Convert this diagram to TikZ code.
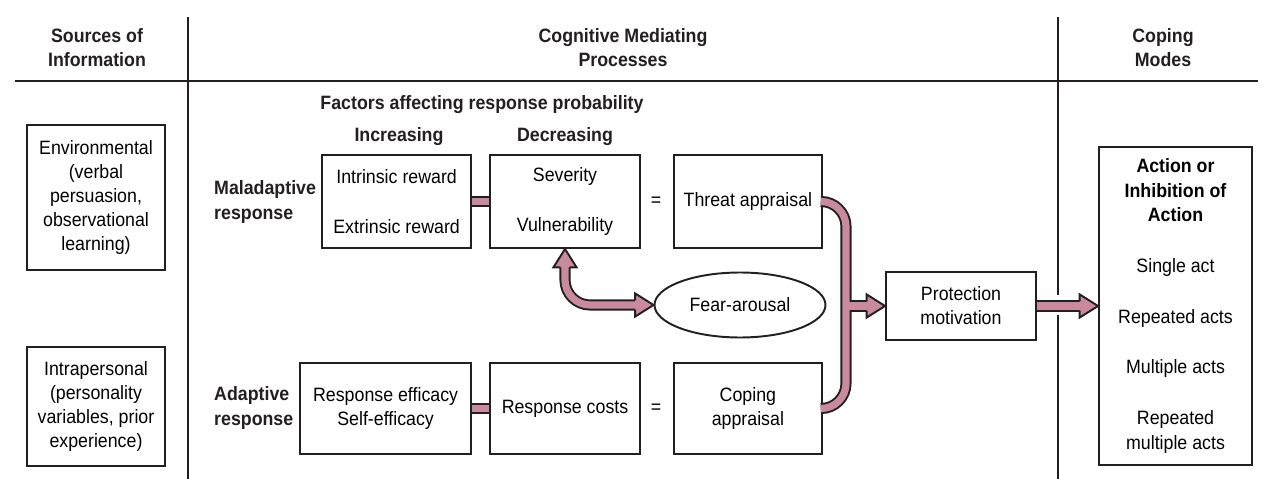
\documentclass[tikz,border=0pt]{standalone}
\usepackage{fontspec}
\setmainfont{Liberation Sans}[FakeStretch=0.92]
\usepackage{tikz}
\usetikzlibrary{positioning,shapes.geometric}

\definecolor{pipepink}{RGB}{201,138,158}
\definecolor{inkgray}{RGB}{35,31,32}
\newcommand\fs{\fontsize{11}{13.7}\selectfont}

% the pink pipes, drawn twice: dark rim first, pink core on top
\newcommand\pipepaths[1]{%
  \draw[#1] (intr.east) -- (sev.west);
  \draw[#1] (eff.east) -- (cost.west);
  \draw[#1, rounded corners=0.5cm] (threat.east) -| (jn) |- (coping.east);
  \draw[#1] (jn) -- ([xshift=-10pt]prot.west);
  \draw[#1] (prot.east) -- ([xshift=-10pt]act.west);
  \draw[#1, rounded corners=0.5cm] ([yshift=-10pt]sev.south) |- ([xshift=-10pt]fear.west);
}
% open block arrow head: angle, tip point
\newcommand\pipehead[2]{%
  \begin{scope}[shift={(#2)}, rotate=#1]
    \filldraw[fill=pipepink, draw=inkgray, line width=1.1pt]
      (-10.5pt,2.6pt) -- (-10.5pt,6.6pt) -- (0pt,0pt) -- (-10.5pt,-6.6pt) -- (-10.5pt,-2.6pt);
  \end{scope}}

\begin{document}
\begin{tikzpicture}[
    x=0.02cm, y=-0.02cm,
    box/.style={draw=inkgray, line width=1.1pt, align=center, font=\fs, inner sep=0pt},
    title/.style={align=center, font=\fs\bfseries, text=inkgray},
    rule/.style={draw=inkgray, line width=1.1pt},
    pipeout/.style={draw=inkgray, line width=6.3pt},
    pipein/.style={draw=pipepink, line width=4.1pt}
]
\useasboundingbox (0,0) rectangle (1267,479);

% column rules
\draw[rule] (15,81) -- (1258,81);
\draw[rule] (188,17) -- (188,479);
\draw[rule] (1058,17) -- (1058,295);
\draw[rule] (1058,315) -- (1058,479);

% headings
\node[title] (hsrc) at (97,48) {Sources of\\Information};
\node[title] (hcog) at (623,48) {Cognitive Mediating\\Processes};
\node[title] (hcop) at (1163,48) {Coping\\Modes};

% sources
\node[box, minimum width=2.76cm, minimum height=2.9cm] (env) at (96,197.5)
  {Environmental\\(verbal\\persuasion,\\observational\\learning)};
\node[box, minimum width=2.76cm, minimum height=2.38cm] (intra) at (96,406.5)
  {Intrapersonal\\(personality\\variables, prior\\experience)};

% mediating processes
\node[title] (factors) at (482,105) {Factors affecting response probability};
\node[title] (incr) at (399,137) {Increasing};
\node[title] (decr) at (565,137) {Decreasing};
\node[title, align=left, anchor=west] (mal) at (208,202) {Maladaptive\\response};
\node[title, align=left, anchor=west] (ada) at (208,408) {Adaptive\\response};

\node[box, minimum width=3.0cm, minimum height=1.86cm] (sev) at (565,201.5) {Severity\\[14.8pt]Vulnerability};
\node[box, minimum width=2.98cm, minimum height=1.86cm, left=0.34cm of sev] (intr) {Intrinsic reward\\[14.8pt]Extrinsic reward};
\node[box, minimum width=2.96cm, minimum height=1.86cm, right=0.64cm of sev] (threat) {Threat appraisal};
\node[font=\fs] (eq1) at (656,201.5) {=};

\node[box, minimum width=3.0cm, minimum height=1.82cm] (cost) at (565,408.5) {Response costs};
\node[box, minimum width=3.42cm, minimum height=1.82cm, left=0.34cm of cost] (eff) {Response efficacy\\Self-efficacy};
\node[box, minimum width=2.96cm, minimum height=1.82cm, right=0.64cm of cost] (coping) {Coping\\appraisal};
\node[font=\fs] (eq2) at (656,408.5) {=};

\node[box, ellipse, minimum width=3.42cm, minimum height=1.3cm] (fear) at (740,305) {Fear-arousal};
\node[box, minimum width=3.0cm, minimum height=1.36cm] (prot) at (961,306) {Protection\\motivation};
\coordinate (jn) at (846,306);

% coping modes
\node[box, minimum width=3.06cm, minimum height=6.36cm] (act) at (1175.5,306)
  {\textbf{Action or}\\\textbf{Inhibition of}\\\textbf{Action}\\[15.3pt]Single act\\[15.3pt]Repeated acts\\[15.3pt]Multiple acts\\[15.3pt]Repeated\\multiple acts};

% pipes and heads
\pipepaths{pipeout}
\pipepaths{pipein}
\pipehead{90}{sev.south}
\pipehead{0}{fear.west}
\pipehead{0}{prot.west}
\pipehead{0}{act.west}
\end{tikzpicture}
\end{document}
